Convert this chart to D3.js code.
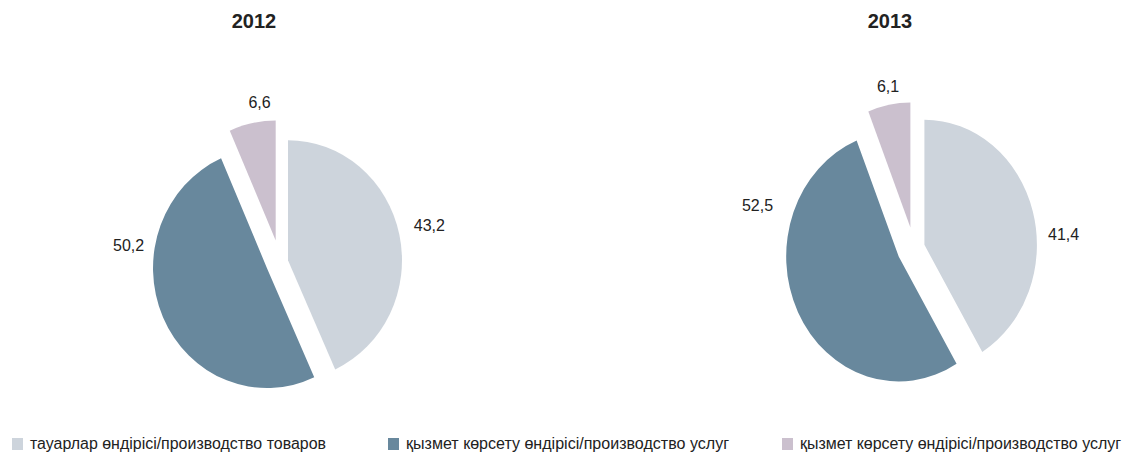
<!DOCTYPE html>
<html><head><meta charset="utf-8">
<script src="https://cdn.jsdelivr.net/npm/d3@7"></script>
<style>body{margin:0;background:#fff;overflow:hidden}</style>
</head><body>
<svg id="chart" width="1126" height="458"></svg>
<script>
// ---- data ----
const categories = [
  "тауарлар өндірісі/производство товаров",
  "қызмет көрсету өндірісі/производство услуг",
  "қызмет көрсету өндірісі/производство услуг"
];
const years = ["2012", "2013"];
const values2012 = [43.2, 50.2, 6.6];
const values2013 = [41.4, 52.5, 6.1];
const seriesValues = [values2012, values2013];

// ---- style / layout ----
const colors = ["#cdd4dc", "#68889d", "#cbc0ce"];
const layouts = [
  {cx: 280, cy: 262, r: 120, sx: 0.95, explode: [8.6, 15, 22], labelAngle: [77, 279, 353], labelPad: [16, 11, 11], titleX: 254},
  {cx: 914, cy: 248, r: 125, sx: 0.90, explode: [12, 19, 21], labelAngle: [86, 288, 350], labelPad: [14, 23, 9], titleX: 890}
];
const legendX = [12, 388, 782];
const legendTextWidth = [296, 323, 321];

const svg = d3.select("#chart");
const pie = d3.pie().sort(null).value(d => d);
const fmt = v => String(v).replace(".", ",");
const rad = deg => deg * Math.PI / 180;

years.forEach((yr, i) => {
  const L = layouts[i];
  const arcs = pie(seriesValues[i]);
  const arc = d3.arc().innerRadius(0).outerRadius(L.r);

  svg.append("text")
    .attr("x", L.titleX).attr("y", 28)
    .attr("text-anchor", "middle")
    .attr("font-family", "Liberation Sans, Arial, sans-serif")
    .attr("font-weight", "bold").attr("font-size", 20)
    .attr("fill", "#222")
    .text(yr);

  const g = svg.append("g");
  arcs.forEach((a, j) => {
    const mid = (a.startAngle + a.endAngle) / 2;
    const d = L.explode[j];
    const px = L.cx + L.sx * d * Math.sin(mid);
    const py = L.cy - d * Math.cos(mid);
    g.append("path")
      .attr("d", arc(a))
      .attr("fill", colors[j])
      .attr("transform", `translate(${px},${py}) scale(${L.sx},1)`);

    const t = g.append("text")
      .attr("font-family", "Liberation Sans, Arial, sans-serif")
      .attr("font-size", 16)
      .attr("fill", "#222")
      .attr("text-anchor", "middle")
      .attr("dy", "0.35em")
      .text(fmt(a.data));
    const w = t.node().getComputedTextLength();
    const ang = rad(L.labelAngle[j]);
    const dist = L.r + L.labelPad[j] + Math.abs(Math.sin(ang)) * w / 2 + Math.abs(Math.cos(ang)) * 7;
    t.attr("x", px + L.sx * dist * Math.sin(ang))
     .attr("y", py - dist * Math.cos(ang));
  });
});

// legend
const lg = svg.append("g");
categories.forEach((c, j) => {
  lg.append("rect")
    .attr("x", legendX[j]).attr("y", 438)
    .attr("width", 11).attr("height", 12)
    .attr("fill", colors[j]);
  lg.append("text")
    .attr("x", legendX[j] + 18).attr("y", 449)
    .attr("font-family", "Liberation Sans Narrow, Liberation Sans, Arial, sans-serif")
    .attr("font-size", 16)
    .attr("fill", "#222")
    .attr("textLength", legendTextWidth[j])
    .attr("lengthAdjust", "spacingAndGlyphs")
    .text(c);
});
</script>
</body></html>
